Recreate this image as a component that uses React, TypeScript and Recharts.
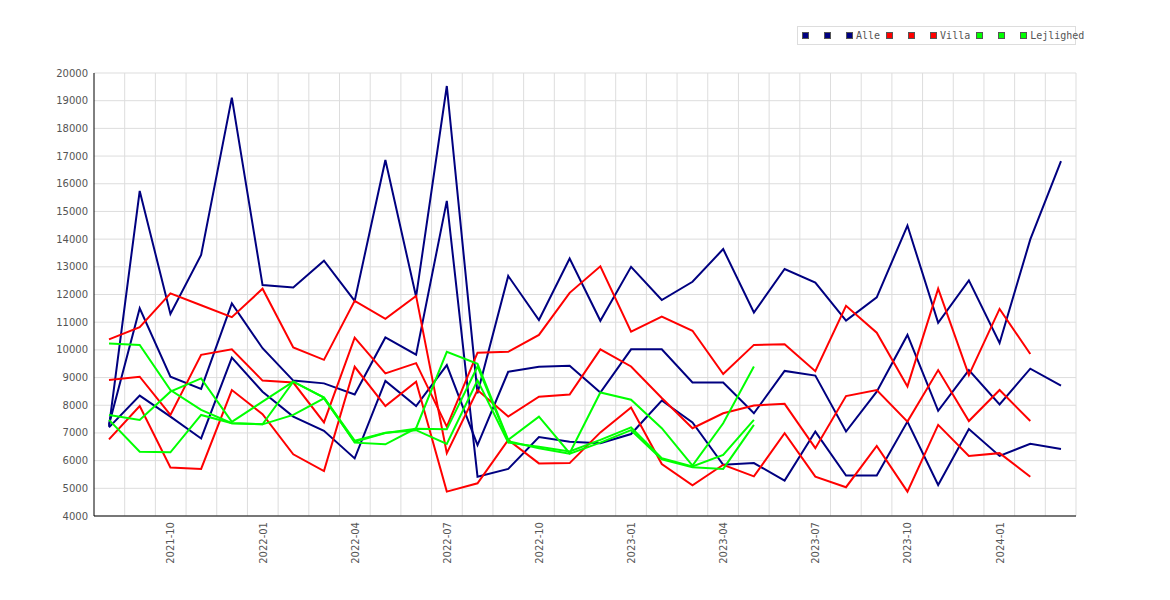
import { LineChart, Line, XAxis, YAxis, CartesianGrid } from 'recharts';

const months = [
  '2021-08', '2021-09', '2021-10', '2021-11', '2021-12', '2022-01', '2022-02', '2022-03',
  '2022-04', '2022-05', '2022-06', '2022-07', '2022-08', '2022-09', '2022-10', '2022-11',
  '2022-12', '2023-01', '2023-02', '2023-03', '2023-04', '2023-05', '2023-06', '2023-07',
  '2023-08', '2023-09', '2023-10', '2023-11', '2023-12', '2024-01', '2024-02', '2024-03',
];

const tickLabels = ['2021-10', '2022-01', '2022-04', '2022-07', '2022-10', '2023-01', '2023-04', '2023-07', '2023-10', '2024-01'];
const yTicks = [4000, 5000, 6000, 7000, 8000, 9000, 10000, 11000, 12000, 13000, 14000, 15000, 16000, 17000, 18000, 19000, 20000];

const alleA = [7230, 15740, 11300, 13430, 19110, 12340, 12250, 13220, 11770, 16860, 11920, 19530, 8430, 12670, 11080, 13300, 11050, 13000, 11800, 12460, 13640, 11350, 12920, 12430, 11060, 11900, 14490, 10980, 12510, 10250, 13990, 16820];
const alleB = [7300, 11500, 9030, 8590, 11680, 10060, 8890, 8790, 8390, 10450, 9830, 15380, 5420, 5700, 6850, 6680, 6630, 6960, 8170, 7380, 5850, 5910, 5280, 7050, 5460, 5460, 7410, 5120, 7140, 6170, 6610, 6420];
const alleC = [7200, 8350, 7590, 6800, 9720, 8490, 7590, 7080, 6080, 8880, 7970, 9450, 6560, 9210, 9390, 9430, 8460, 10020, 10020, 8820, 8820, 7710, 9240, 9070, 7050, 8490, 10540, 7800, 9270, 8030, 9320, 8710];

const villaA = [10380, 10820, 12040, 11610, 11180, 12210, 10090, 9640, 11770, 11120, 11950, 6270, 8550, 7590, 8310, 8390, 10020, 9400, 8260, 7170, 7710, 7990, 8050, 6450, 8330, 8550, 7410, 9270, 7430, 8550, 7430, null];
const villaB = [8910, 9030, 7650, 9820, 10020, 8890, 8820, 7380, 10440, 9150, 9520, 7230, 9900, 9930, 10540, 12060, 13020, 10660, 11200, 10690, 9130, 10180, 10200, 9230, 11590, 10620, 8680, 12210, 9090, 11480, 9850, null];
const villaC = [6770, 7970, 5750, 5700, 8550, 7680, 6230, 5620, 9390, 7970, 8850, 4880, 5180, 6750, 5900, 5910, 7020, 7920, 5880, 5110, 5850, 5430, 6990, 5420, 5040, 6530, 4880, 7290, 6170, 6270, 5420, null];

const lejA = [10230, 10180, 8550, 7830, 7350, 7310, 8850, 8280, 6650, 6590, 7170, 9930, 9500, 6750, 7590, 6270, 8460, 8200, 7170, 5820, 7350, 9400, null, null, null, null, null, null, null, null, null, null];
const lejB = [7650, 7470, 8490, 8970, 7400, 8130, 8850, 8280, 6720, 7010, 7100, 6600, 8900, 6650, 6500, 6330, 6750, 7200, 6090, 5790, 6210, 7470, null, null, null, null, null, null, null, null, null, null];
const lejC = [7470, 6320, 6300, 7650, 7350, 7310, 7650, 8250, 6680, 7000, 7150, 7130, 9400, 6700, 6450, 6250, 6650, 7100, 6050, 5760, 5700, 7290, null, null, null, null, null, null, null, null, null, null];

const series = [
  { key: 'alleA', values: alleA, color: '#000080', label: '' },
  { key: 'alleB', values: alleB, color: '#000080', label: '' },
  { key: 'alleC', values: alleC, color: '#000080', label: 'Alle' },
  { key: 'villaA', values: villaA, color: '#ff0000', label: '' },
  { key: 'villaB', values: villaB, color: '#ff0000', label: '' },
  { key: 'villaC', values: villaC, color: '#ff0000', label: 'Villa' },
  { key: 'lejA', values: lejA, color: '#00ff00', label: '' },
  { key: 'lejB', values: lejB, color: '#00ff00', label: '' },
  { key: 'lejC', values: lejC, color: '#00ff00', label: 'Lejlighed' },
];

const data = months.map((month, i) => {
  const row: Record<string, string | number | null> = { month };
  series.forEach((s) => { row[s.key] = s.values[i]; });
  return row;
});

function MonthTick({ x, y, payload }: { x?: number; y?: number; payload?: { value: string } }) {
  if (!payload || !tickLabels.includes(payload.value)) return <g />;
  const ty = (y ?? 0) - 2;
  return (
    <text x={x} y={ty} dy="0.4em" textAnchor="end" fill="#555" fontSize={10}
      fontFamily="DejaVu Sans" transform={`rotate(-90, ${x}, ${ty})`}>
      {payload.value}
    </text>
  );
}

function ChartLegend() {
  return (
    <div style={{
      position: 'absolute', left: 797, top: 26, width: 279, height: 19, border: '1px solid #ddd',
      background: '#fff', display: 'flex', alignItems: 'center', paddingLeft: 4, boxSizing: 'border-box',
      fontFamily: 'DejaVu Sans Mono', fontSize: 10, color: '#555', whiteSpace: 'nowrap', overflow: 'visible',
    }}>
      {series.map((s) => (
        <div key={s.key} style={{ display: 'flex', alignItems: 'center', marginRight: s.label ? 6 : 15 }}>
          <span style={{ width: 7, height: 7, background: s.color, border: '1px solid #555', boxSizing: 'border-box', display: 'inline-block' }} />
          {s.label && <span style={{ marginLeft: 3 }}>{s.label}</span>}
        </div>
      ))}
    </div>
  );
}

export default function App() {
  return (
    <div style={{ position: 'absolute', left: 0, top: 0, width: 1170, height: 600, background: '#fff' }}>
      <LineChart width={1170} height={600} data={data} margin={{ top: 73, right: 94, bottom: 24, left: 0 }}>
        <CartesianGrid stroke="#ddd" strokeWidth={1}
          verticalCoordinatesGenerator={({ offset }: any) =>
            months.map((_, k) => offset.left + ((k + 1) * offset.width) / months.length)} />
        <XAxis dataKey="month" interval={0} height={60} padding={{ left: 15, right: 15 }}
          tick={<MonthTick />} tickLine={false} axisLine={{ stroke: '#000' }} />
        <YAxis width={94} domain={[4000, 20000]} ticks={yTicks} interval={0} tickLine={false}
          tickSize={4} tickMargin={2} axisLine={{ stroke: '#000' }}
          tick={{ fill: '#555', fontSize: 10, fontFamily: 'DejaVu Sans' }} />
        {series.map((s) => (
          <Line key={s.key} type="linear" dataKey={s.key} stroke={s.color} strokeWidth={2}
            dot={false} isAnimationActive={false} />
        ))}
      </LineChart>
      <ChartLegend />
    </div>
  );
}
